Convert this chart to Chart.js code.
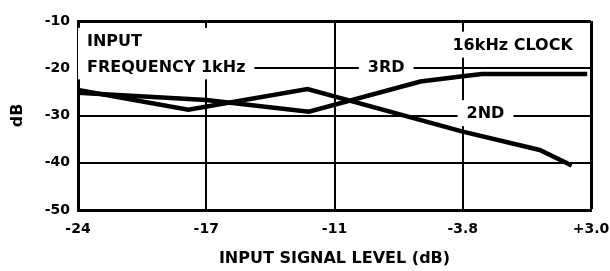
<!DOCTYPE html>
<html>
<head>
<meta charset="utf-8">
<script src="https://cdn.jsdelivr.net/npm/chart.js@4/dist/chart.umd.min.js"></script>
<style>
    html, body { margin: 0; padding: 0; background: #fff; }
    #wrap { width: 610px; height: 271px; position: relative; }
</style>
</head>
<body>
<div id="wrap"><canvas id="distChart"></canvas></div>
<script>
// 横軸ラベル(等間隔)
const xLabels = ['-24', '-17', '-11', '-3.8', '+3.0'];
const yMin = -50;
const yMax = -10;

// 2次高調波 (横軸はラベル位置単位)
const secondX = [0, 0.86, 1.79, 3.0, 3.6, 3.85];
const secondDb = [-24.6, -28.8, -24.4, -33.4, -37.3, -40.6];

// 3次高調波
const thirdX = [0, 1.0, 1.8, 2.67, 3.0, 3.15, 3.97];
const thirdDb = [-25.2, -26.7, -29.2, -22.8, -21.7, -21.2, -21.2];

// グラフ内の注記
const notes = [
    { lines: ['INPUT', 'FREQUENCY 1kHz'], x: 0.07, y: [-14.2, -19.6] },
    { lines: ['16kHz CLOCK'], x: 2.92, y: [-15.0] },
    { lines: ['3RD'], x: 2.26, y: [-19.8] },
    { lines: ['2ND'], x: 3.03, y: [-29.5] }
];

const FONT = 'DejaVu Sans';

function toPoints(xs, ys) {
    return xs.map((x, i) => ({ x: x, y: ys[i] }));
}

// 注記を白抜きの箱付きで描く
const notePlugin = {
    id: 'notes',
    beforeDatasetsDraw(chart) {
        const ctx = chart.ctx;
        const xs = chart.scales.x;
        const ys = chart.scales.y;
        ctx.save();
        ctx.font = 'bold 16px "' + FONT + '"';
        ctx.textAlign = 'left';
        ctx.textBaseline = 'middle';
        notes.forEach(note => {
            const left = xs.getPixelForValue(note.x);
            const widths = note.lines.map(t => ctx.measureText(t).width);
            const centers = note.y.map(v => ys.getPixelForValue(v));
            const top = Math.min(...centers) - 6 - 7;
            const bottom = Math.max(...centers) + 6 + 7;
            ctx.fillStyle = '#fff';
            ctx.fillRect(left - 9, top, Math.max(...widths) + 18, bottom - top);
            ctx.fillStyle = '#000';
            note.lines.forEach((t, i) => ctx.fillText(t, left, centers[i] + 1));
        });
        ctx.restore();
    }
};

const ctx = document.getElementById('distChart').getContext('2d');
new Chart(ctx, {
    type: 'line',
    data: {
        datasets: [
            {
                label: '2ND',
                data: toPoints(secondX, secondDb),
                borderColor: '#000',
                borderWidth: 4.5,
                pointRadius: 0,
                tension: 0,
                fill: false
            },
            {
                label: '3RD',
                data: toPoints(thirdX, thirdDb),
                borderColor: '#000',
                borderWidth: 4.5,
                pointRadius: 0,
                tension: 0,
                fill: false
            }
        ]
    },
    options: {
        responsive: true,
        maintainAspectRatio: false,
        animation: false,
        layout: { padding: { top: 21, right: 19, left: 0, bottom: 0 } },
        plugins: {
            legend: { display: false },
            tooltip: { enabled: false }
        },
        scales: {
            x: {
                type: 'linear',
                min: 0,
                max: xLabels.length - 1,
                afterFit: scale => {
                    scale.height = 61;
                    // 端のラベルのはみ出しで描画域が縮まないように
                    scale.paddingLeft = 0;
                    scale.paddingRight = 0;
                },
                ticks: {
                    stepSize: 1,
                    padding: 11,
                    maxRotation: 0,
                    color: '#000',
                    font: { family: FONT, size: 14, weight: 'bold' },
                    callback: value => xLabels[value]
                },
                grid: {
                    color: '#000',
                    lineWidth: c => (c.index === xLabels.length - 1 ? 3 : 2),
                    drawTicks: false
                },
                border: { display: true, color: '#000', width: 3 },
                title: {
                    display: true,
                    text: 'INPUT SIGNAL LEVEL (dB)',
                    color: '#000',
                    font: { family: FONT, size: 16, weight: 'bold' },
                    padding: { top: 0, bottom: 3 }
                }
            },
            y: {
                min: yMin,
                max: yMax,
                afterFit: scale => {
                    scale.width = 78;
                    scale.paddingTop = 0;
                    scale.paddingBottom = 0;
                },
                ticks: {
                    stepSize: 10,
                    padding: 8,
                    color: '#000',
                    font: { family: FONT, size: 14, weight: 'bold' }
                },
                grid: {
                    color: '#000',
                    lineWidth: c => (c.tick && c.tick.value === yMax ? 3 : 2),
                    drawTicks: false
                },
                border: { display: true, color: '#000', width: 3 },
                title: {
                    display: true,
                    text: 'dB',
                    color: '#000',
                    font: { family: FONT, size: 16, weight: 'bold' },
                    padding: { top: 8, bottom: 0 }
                }
            }
        }
    },
    plugins: [notePlugin]
});
</script>
</body>
</html>
